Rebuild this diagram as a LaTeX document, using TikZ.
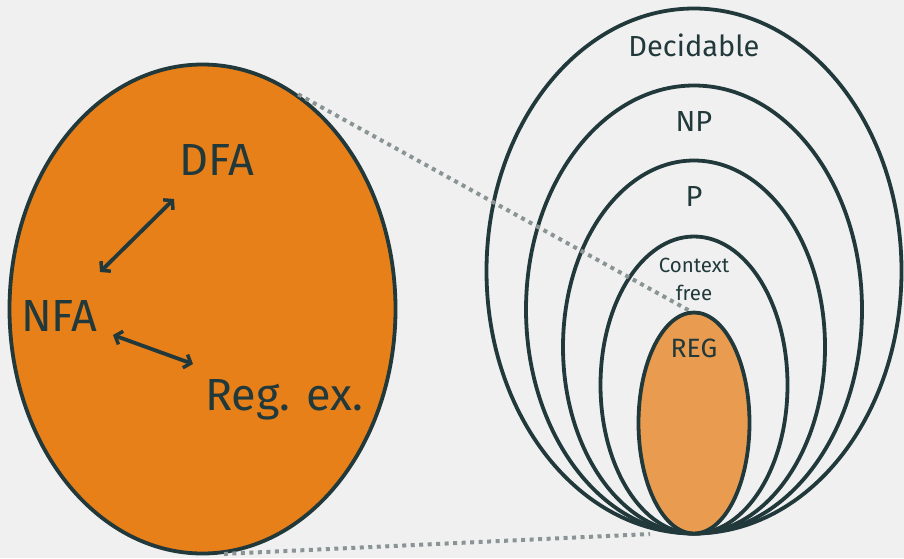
\documentclass[tikz,border=0pt]{standalone}
\usepackage{fontspec}
\setmainfont{Fira Sans}
\usetikzlibrary{shapes.geometric,arrows.meta}
\definecolor{bg}{HTML}{F0F0F0}
\definecolor{ink}{HTML}{21393B}
\definecolor{orng}{HTML}{E8801A}
\definecolor{lorng}{HTML}{E99C50}
\definecolor{dotgray}{HTML}{8A9494}
\tikzset{
  set/.style={ellipse,draw=ink,line width=3.8pt,inner sep=0pt},
  lbl/.style={text=ink,inner sep=0pt,anchor=base},
  big/.style={lbl,anchor=base west,font=\fontsize{45}{52}\selectfont},
  cls/.style={lbl,font=\fontsize{29}{33}\selectfont},
  conv/.style={ink,line width=3.8pt,{Straight Barb[length=6pt,width=14pt,line width=3.5pt]}-{Straight Barb[length=6pt,width=14pt,line width=3.5pt]}},
  zoomline/.style={dotgray,line width=4pt,dash pattern=on 4pt off 4.5pt}
}
\begin{document}
\begin{tikzpicture}[x=1pt,y=-1pt]
\fill[bg] (0,0) rectangle (904,558);
\useasboundingbox (0,0) rectangle (904,558);
% left ellipse
\node[set,fill=orng,minimum width=386pt,minimum height=489pt] (L) at (202.5,309) {};
\node[big] (dfa) at (179,175) {DFA};
\node[big] (nfa) at (21,331) {NFA};
\node[big] (reg) at (205,410) {Reg. ex.};
\coordinate (a1) at (100,272);
\coordinate (a2) at (174,199);
\coordinate (b1) at (113,335);
\coordinate (b2) at (193,364);
\draw[conv] (a1) -- (a2);
\draw[conv] (b1) -- (b2);
% right nested ellipses
\node[set,minimum width=415pt,minimum height=525pt] (dec) at (694,271) {};
\node[set,minimum width=336pt,minimum height=448pt] (np) at (694,309.5) {};
\node[set,minimum width=262pt,minimum height=373pt] (p) at (694,347) {};
\node[set,minimum width=187pt,minimum height=297pt] (cf) at (694,385) {};
% zoom lines
\draw[zoomline] (L.66) -- (690,311) coordinate (rt);
\draw[zoomline] (L.-85) -- (650,534) coordinate (rb);
\node[set,fill=lorng,minimum width=111pt,minimum height=221pt] (REG) at (694,423) {};
\node[cls] (tdec) at (694,56) {Decidable};
\node[cls] (tnp) at (694,131) {NP};
\node[cls] (tp) at (694,206) {P};
\node[lbl,align=center,anchor=center,font=\fontsize{20.5}{28}\selectfont] (tcf) at (694,279) {Context\\free};
\node[cls,font=\fontsize{26.5}{30}\selectfont] (treg) at (694,357) {REG};
\end{tikzpicture}
\end{document}
